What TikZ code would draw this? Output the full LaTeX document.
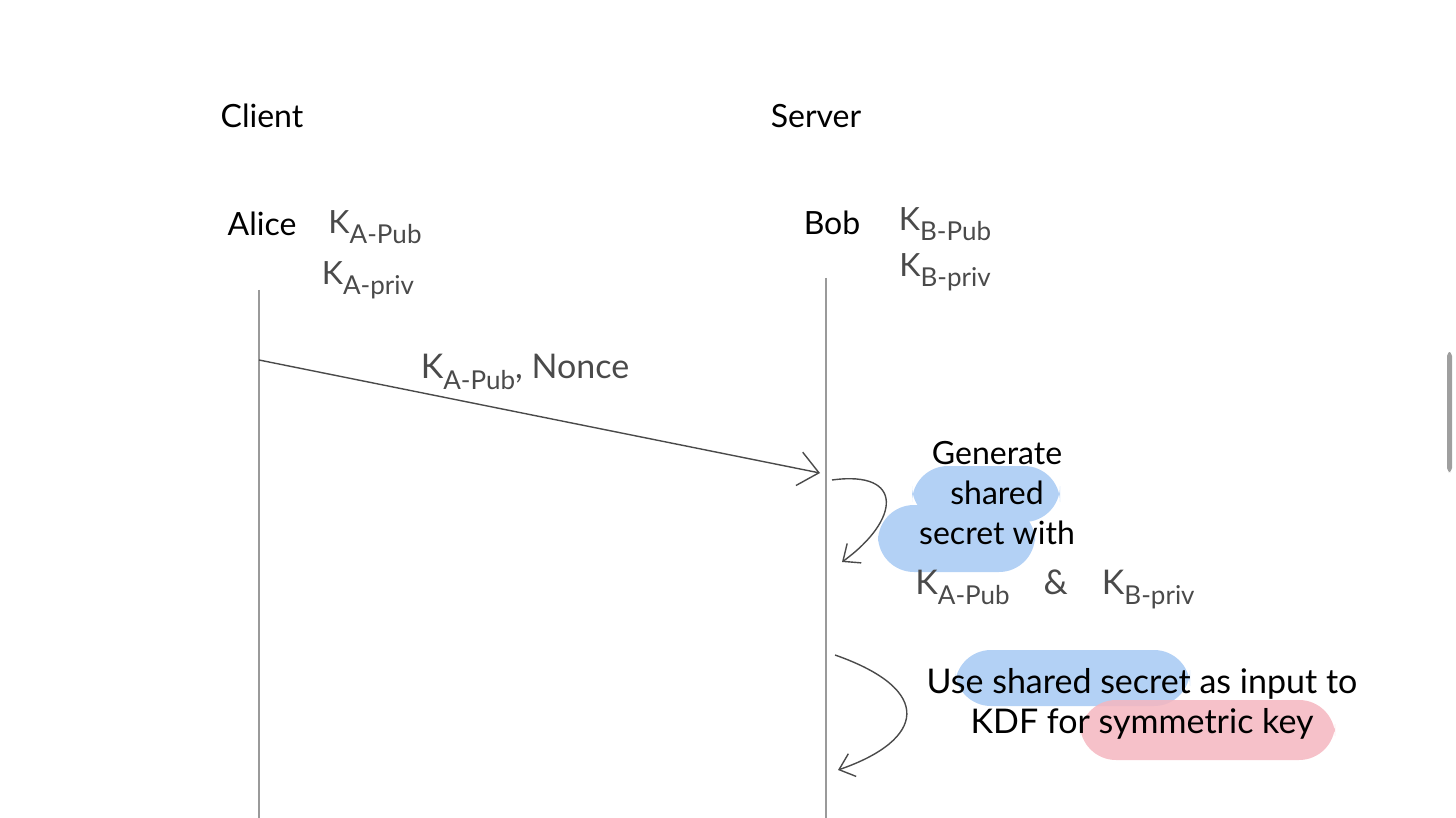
\documentclass[tikz,border=0pt]{standalone}
\usepackage{fontspec}
\setmainfont{Lato}
\usetikzlibrary{arrows.meta,calc,positioning}
\newcommand{\keysub}[2]{#1\raisebox{-0.6ex}{\fontsize{13}{15}\selectfont #2}}

\definecolor{lifegray}{HTML}{9A9A9A}
\definecolor{inkgray}{HTML}{4A4A4A}
\definecolor{hlblue}{HTML}{B3D1F5}
\definecolor{hlred}{HTML}{F5B6BF}

\begin{document}
\begin{tikzpicture}[x=0.5pt,y=-0.5pt,>={Straight Barb[length=7pt,width=12pt]},
  every node/.style={font=\fontsize{16}{20}\selectfont, inner sep=1pt},
  lifeline/.style={draw=lifegray, line width=0.6pt},
  msg/.style={draw=inkgray, line width=0.7pt, ->},
  keytext/.style={text=inkgray},
  highlight/.style={rounded corners=18pt}]
  \useasboundingbox (0,0) rectangle (1456,818);
  % Markierungen
  \fill[hlblue, highlight] (912,466) rectangle (1060,522);
  \fill[hlblue, highlight] (878,505) rectangle (1035,572);
  \fill[hlblue, highlight] (955,650) rectangle (1190,706);
  \fill[hlred, highlight, opacity=0.85] (1080,700) rectangle (1335,760);
  % Teilnehmer
  \node (client) at (262,116) {Client};
  \node (server) at (816,116) {Server};
  \node (alice) at (262,224) {Alice};
  \node[keytext] (akpub) at (375,227) {\keysub{K}{A-Pub}};
  \node[keytext] (akpriv) at (368,280) {\keysub{K}{A-priv}};
  \node (bob) at (832,223) {Bob};
  \node[keytext] (bkpub) at (945,224) {\keysub{K}{B-Pub}};
  \node[keytext] (bkpriv) at (945,272) {\keysub{K}{B-priv}};
  % Lebenslinien
  \coordinate (atop) at (259,290);
  \coordinate (abot) at (259,818);
  \coordinate (btop) at (826,278);
  \coordinate (bbot) at (826,818);
  \draw[lifeline] (atop) -- (abot);
  \draw[lifeline] (btop) -- (bbot);
  % Nachricht
  \coordinate (msgfrom) at (259,360);
  \coordinate (msgto) at (820,473);
  \draw[msg, -{Straight Barb[length=10pt,width=17pt]}] (msgfrom) -- (msgto);
  \node[keytext, font=\fontsize{17}{20}\selectfont] (msglabel) at (525,372) {\keysub{K}{A-Pub}, Nonce};
  % Schritte auf Server
  \node[align=center] (gen) at (997,493) {Generate\\shared\\secret with};
  \node[keytext, font=\fontsize{17}{20}\selectfont, below=10pt of gen, xshift=29pt] (genkeys) {\keysub{K}{A-Pub}\quad\&\quad\keysub{K}{B-priv}};
  \coordinate (selfa) at (832,480);
  \coordinate (selfb) at (842,562);
  \draw[msg] (selfa) .. controls (905,470) and (900,520) .. (selfb);
  \node[align=center, font=\fontsize{17}{20}\selectfont] (kdf) at (1142,704) {Use shared secret as input to\\KDF for symmetric key};
  \coordinate (selfc) at (835,655);
  \coordinate (selfd) at (838,770);
  \draw[msg] (selfc) .. controls (935,690) and (925,740) .. (selfd);
  % Bildlaufleiste
  \fill[gray!75, rounded corners=2pt] (1447,352) rectangle (1452,472);
\end{tikzpicture}
\end{document}
